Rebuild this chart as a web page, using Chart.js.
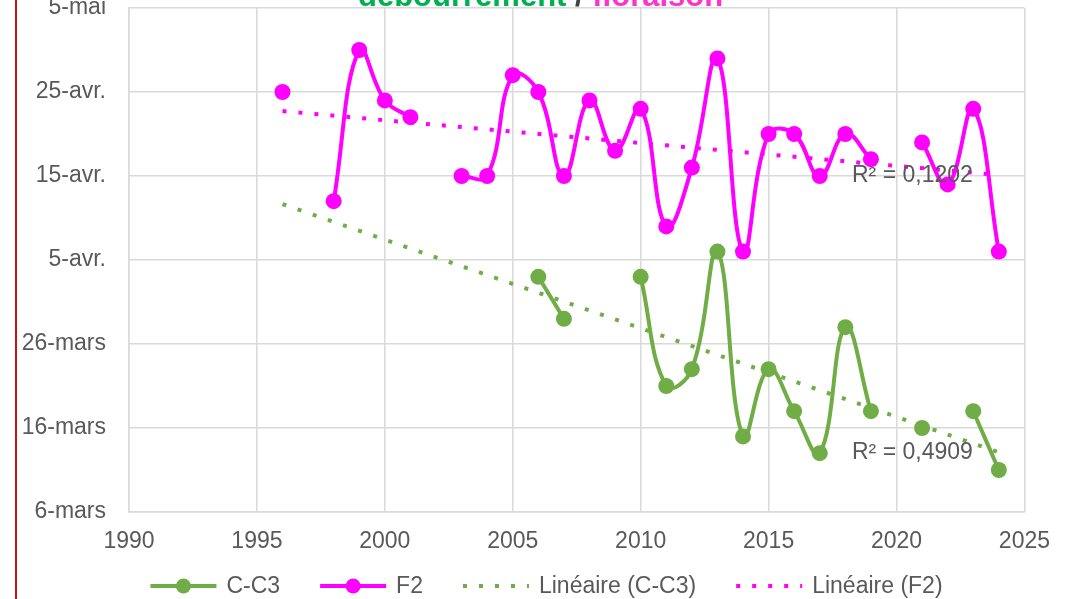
<!DOCTYPE html>
<html><head><meta charset="utf-8">
<script src="https://cdn.jsdelivr.net/npm/chart.js@4/dist/chart.umd.min.js"></script>
<style>
html,body{margin:0;padding:0;overflow:hidden;background:#fff;width:1066px;height:599px;position:relative}
#wrap{position:absolute;left:0;top:-60px;width:1066px;height:659px}
</style></head><body>
<div id="wrap"><canvas id="c" width="1066" height="659"></canvas></div>
<script>
// ---- data (y values = day of year) ----
const years = [1996,1997,1998,1999,2000,2001,2002,2003,2004,2005,2006,2007,2008,2009,2010,2011,2012,2013,2014,2015,2016,2017,2018,2019,2020,2021,2022,2023,2024];
const cc3 = [null,null,null,null,null,null,null,null,null,null,93,88,null,null,93,80,82,96,74,82,77,72,87,77,null,75,null,77,70];
const f2  = [115,null,102,120,114,112,null,105,105,117,115,105,114,108,113,99,106,119,96,110,110,105,110,107,null,109,104,113,96];
const seriesNames = ['C-C3','F2','Linéaire (C-C3)','Linéaire (F2)'];
const yTickValues = [65,75,85,95,105,115,125];
const yTickLabels = ['6-mars','16-mars','26-mars','5-avr.','15-avr.','25-avr.','5-mai'];
const xTickValues = [1990,1995,2000,2005,2010,2015,2020,2025];
const trendFrom = 1996, trendTo = 2024;
const r2Labels = ['R² = 0,4909','R² = 0,1202'];
const titleParts = [['débourrement','#00B050'],[' / ','#404040'],['floraison','#FF33CC']];

const GREEN = '#70AD47', MAG = '#FF00FF', TXT = '#595959', GRID = '#D9D9D9';
const FONT = '"Liberation Sans", Arial, sans-serif';
const OFF = 60;

function toPts(vals){ return years.map((y,i)=>({x:y, y:vals[i]})); }
function regression(vals){
  const xs=[], ys=[];
  years.forEach((y,i)=>{ if(vals[i]!==null){ xs.push(y); ys.push(vals[i]); } });
  const n=xs.length, mx=xs.reduce((a,b)=>a+b,0)/n, my=ys.reduce((a,b)=>a+b,0)/n;
  let sxy=0,sxx=0; xs.forEach((x,i)=>{ sxy+=(x-mx)*(ys[i]-my); sxx+=(x-mx)*(x-mx); });
  const b=sxy/sxx, a=my-b*mx;
  return [{x:trendFrom,y:a+b*trendFrom},{x:trendTo,y:a+b*trendTo}];
}

const deco = {
  id:'deco',
  afterDraw(chart){
    const ctx = chart.ctx;
    ctx.save();
    // red left rule
    ctx.strokeStyle='#D01010'; ctx.lineWidth=2;
    ctx.beginPath(); ctx.moveTo(16,0); ctx.lineTo(16,chart.height); ctx.stroke();
    // title (cut at top)
    ctx.font='bold 31px '+FONT; ctx.textAlign='left'; ctx.textBaseline='alphabetic';
    let x=358;
    titleParts.forEach(p=>{ ctx.fillStyle=p[1]; ctx.fillText(p[0],x,OFF+6); x+=ctx.measureText(p[0]).width; });
    // R² labels
    ctx.font='23px '+FONT; ctx.fillStyle=TXT; ctx.textBaseline='middle';
    ctx.fillText(r2Labels[1], 852, OFF+176);
    ctx.fillText(r2Labels[0], 852, OFF+453);
    // legend
    const ly = OFF+586;
    const styles = [
      {c:GREEN, dot:false, marker:true},
      {c:MAG, dot:false, marker:true},
      {c:GREEN, dot:true},
      {c:MAG, dot:true}
    ];
    const sym=66, g1=10, g2=40;
    let total=0;
    seriesNames.forEach((t,i)=>{ total += sym+g1+ctx.measureText(t).width + (i<3?g2:0); });
    let lx = 546.5 - total/2;
    seriesNames.forEach((t,i)=>{
      const s=styles[i];
      ctx.strokeStyle=s.c;
      if(s.dot){ ctx.lineWidth=4; ctx.setLineDash([4,12]); }
      else { ctx.lineWidth=4; ctx.setLineDash([]); }
      ctx.beginPath(); ctx.moveTo(lx,ly); ctx.lineTo(lx+sym,ly); ctx.stroke();
      ctx.setLineDash([]);
      if(s.marker){ ctx.fillStyle=s.c; ctx.beginPath(); ctx.arc(lx+sym/2,ly,7.5,0,Math.PI*2); ctx.fill(); }
      lx += sym+g1;
      ctx.fillStyle=TXT; ctx.fillText(t,lx,ly+1);
      lx += ctx.measureText(t).width + g2;
    });
    ctx.restore();
  }
};

const common = {borderWidth:4, pointRadius:8, pointHoverRadius:8, pointBorderWidth:0, tension:0.42, spanGaps:false, fill:false};
new Chart(document.getElementById('c'), {
  type:'line',
  data:{datasets:[
    Object.assign({label:seriesNames[0], data:toPts(cc3), borderColor:GREEN, backgroundColor:GREEN, pointBackgroundColor:GREEN, order:2}, common),
    Object.assign({label:seriesNames[1], data:toPts(f2), borderColor:MAG, backgroundColor:MAG, pointBackgroundColor:MAG, order:2}, common),
    {label:seriesNames[2], data:regression(cc3), borderColor:GREEN, borderWidth:4, borderDash:[4,12], borderCapStyle:'butt', pointRadius:0, tension:0, fill:false, order:1},
    {label:seriesNames[3], data:regression(f2), borderColor:MAG, borderWidth:4, borderDash:[4,12], borderCapStyle:'butt', pointRadius:0, tension:0, fill:false, order:1}
  ]},
  options:{
    responsive:false, animation:false, events:[],
    layout:{padding:{left:0,right:39,top:68,bottom:42}},
    plugins:{legend:{display:false}, tooltip:{enabled:false}, title:{display:false}},
    scales:{
      x:{type:'linear', min:xTickValues[0], max:xTickValues[xTickValues.length-1],
         afterBuildTicks(s){ s.ticks = xTickValues.map(v=>({value:v})); },
         ticks:{color:TXT, font:{family:FONT,size:23}, padding:16, maxRotation:0, callback:v=>String(v)},
         grid:{color:GRID, lineWidth:1.5, drawTicks:false}, border:{color:GRID, width:1.5},
         afterFit(s){ s.height=45; }},
      y:{type:'linear', min:yTickValues[0], max:yTickValues[yTickValues.length-1],
         afterBuildTicks(s){ s.ticks = yTickValues.map(v=>({value:v})); },
         ticks:{color:TXT, font:{family:FONT,size:23}, padding:23, callback:v=>yTickLabels[yTickValues.indexOf(v)]},
         grid:{color:GRID, lineWidth:1.5, drawTicks:false}, border:{color:GRID, width:1.5},
         afterFit(s){ s.width=129; }}
    }
  },
  plugins:[deco]
});
</script>
</body></html>
